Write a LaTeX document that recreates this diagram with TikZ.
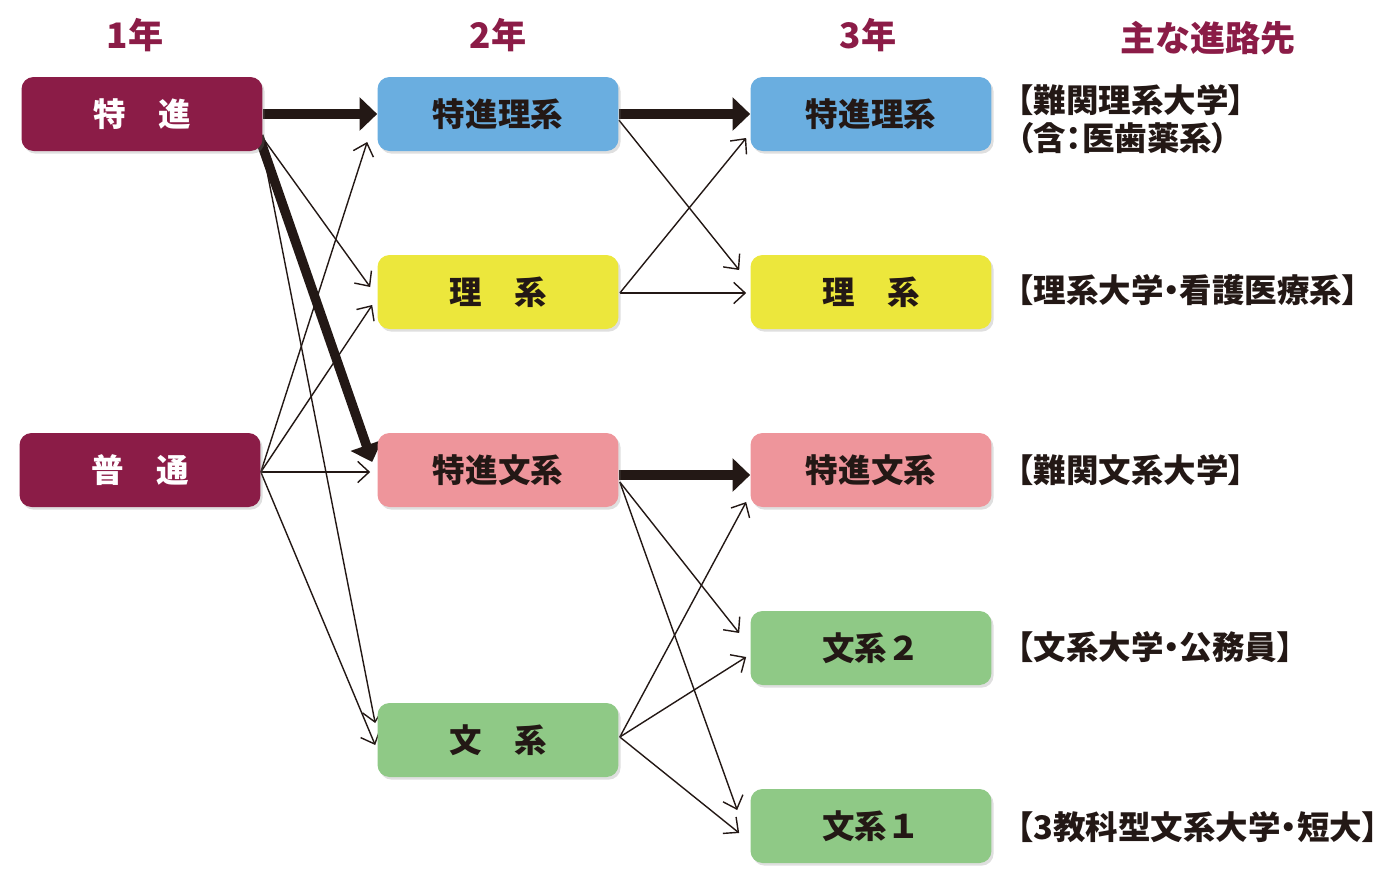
\documentclass[tikz,border=0pt]{standalone}
\usepackage{fontspec}
\setmainfont{Noto Sans CJK JP}
\newfontfamily\lblfont{Noto Sans CJK JP}[RawFeature=+palt]
\usetikzlibrary{arrows.meta,calc,shadows,backgrounds}

\definecolor{wine}{HTML}{8B1C47}
\definecolor{ink}{HTML}{231815}
\definecolor{sky}{HTML}{6AAEE0}
\definecolor{lemon}{HTML}{ECE73C}
\definecolor{rose}{HTML}{EE959B}
\definecolor{leaf}{HTML}{8FC986}

\tikzset{
    box/.style={rounded corners=0.24cm, minimum width=4.82cm, minimum height=1.48cm,
        inner sep=0pt, text=ink, font=\fontsize{18.5}{20}\selectfont\bfseries,
        drop shadow={shadow xshift=1.2pt, shadow yshift=-1.5pt, opacity=0.25}},
    year/.style={text=wine, font=\fontsize{20}{22}\selectfont\bfseries},
    goal/.style={anchor=west, align=left, inner sep=0pt, text=ink,
        font=\lblfont\fontsize{18.5}{21.5}\selectfont\bfseries},
    thinarr/.style={-{Straight Barb[length=6.5pt,width=12pt]}, ink, line width=0.8pt},
    thickarr/.style={-{Triangle[length=10pt,width=18.5pt]}, ink, line width=5.4pt}
}

\begin{document}
\begin{tikzpicture}[x=0.02cm, y=-0.02cm]
    \useasboundingbox (0,0) rectangle (1397,877);

    % headers
    \node[year] (h1) at (135,35) {1年};
    \node[year] (h2) at (498,35) {2年};
    \node[year] (h3) at (868,35) {3年};
    \node[year] (h4) at (1208,38) {主な進路先};

    % 1st year
    \node[box, fill=wine, text=white] (t1) at (142,114) {特　進};
    \node[box, fill=wine, text=white] (f1) at (140,470) {普　通};

    % 2nd year
    \node[box, fill=sky] (t2r) at (498,114) {特進理系};
    \node[box, fill=lemon] (r2) at (498,292) {理　系};
    \node[box, fill=rose] (t2b) at (498,470) {特進文系};
    \node[box, fill=leaf] (b2) at (498,740) {文　系};

    % 3rd year
    \node[box, fill=sky] (t3r) at (871,114) {特進理系};
    \node[box, fill=lemon] (r3) at (871,292) {理　系};
    \node[box, fill=rose] (t3b) at (871,470) {特進文系};
    \node[box, fill=leaf] (b3b) at (871,648) {文系２};
    \node[box, fill=leaf] (b3a) at (871,826) {文系１};

    % destinations
    \node[goal] (g1) at (1017,119) {【難関理系大学】\\（含：医歯薬系）};
    \node[goal] (g2) at (1017,290) {【理系大学・看護医療系】};
    \node[goal] (g3) at (1017,470) {【難関文系大学】};
    \node[goal] (g4) at (1017,647) {【文系大学・公務員】};
    \node[goal] (g5) at (1017,827) {【3教科型文系大学・短大】};

    \begin{scope}[on background layer]
        \foreach \a/\ax/\ay/\b/\bx/\by in {t1/0/24/r2/-7/-5, t1/-1/31/b2/-2/-17,
            f1/0/2/t2r/-10/28, f1/0/2/r2/-5/13, f1/0/2/t2b/-7/2, f1/0/2/b2/-2/5,
            t2r/0/6/r3/-11/-22, r2/1/1/t3r/-4/24, r2/1/1/r3/-4/1,
            t2b/1/12/b3b/-11/-15, t2b/1/12/b3a/-13/-16,
            b2/1/-3/t3b/-4/32, b2/1/-3/b3b/-4/9, b2/1/-3/b3a/-11/7}{
            \draw[thinarr] ($(\a.east)+(\ax,\ay)$) -- ($(\b.west)+(\bx,\by)$);
        }

        \draw[thickarr] (t1.east) -- (t2r.west);
        \draw[thickarr] ($(t1.east)+(-4,22)$) -- ($(t2b.west)+(-5,-8)$);
        \draw[thickarr] (t2r.east) -- (t3r.west);
        \draw[thickarr] ($(t2b.east)+(0,5)$) -- ($(t3b.west)+(0,5)$);
    \end{scope}
\end{tikzpicture}
\end{document}
